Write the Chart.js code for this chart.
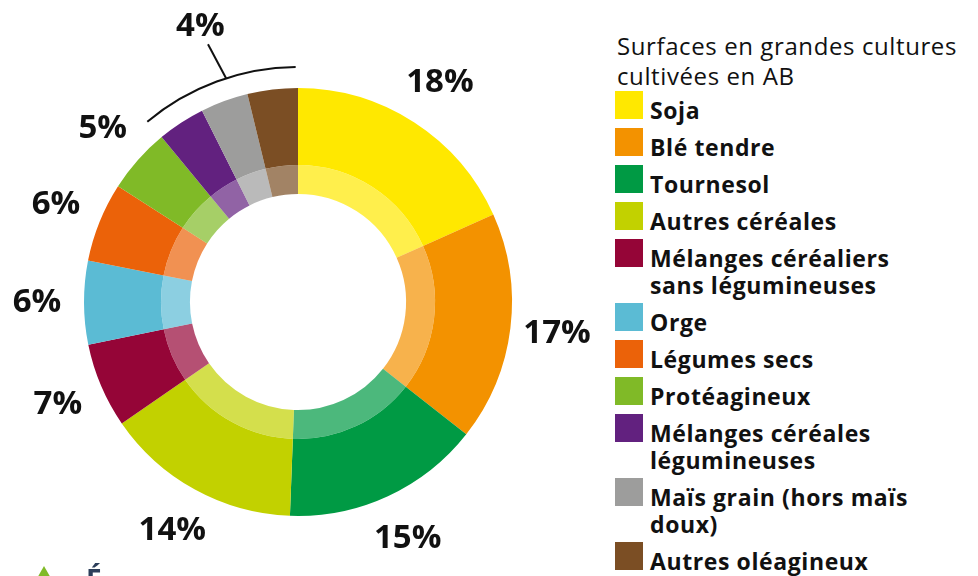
<!DOCTYPE html>
<html>
<head>
<meta charset="utf-8">
<script src="https://cdn.jsdelivr.net/npm/chart.js@4"></script>
<style>
    html, body { margin: 0; padding: 0; background: #fff; }
    body { width: 978px; height: 576px; position: relative; overflow: hidden; font-family: "Open Sans", Roboto, sans-serif; color: #111; }
    #wrap { position: absolute; left: 0; top: 0; width: 596px; height: 576px; }
    #legend { position: absolute; left: 615px; top: 31px; width: 363px; }
    #legend .title { font-size: 24px; line-height: 30px; margin-left: 2px; letter-spacing: 0.6px; white-space: nowrap; }
    #legend .item { display: flex; align-items: flex-start; margin-bottom: 4px; }
    #legend .box { width: 28px; height: 28px; flex: none; margin-right: 7px; }
    #legend .txt { font-size: 23px; font-weight: bold; line-height: 27px; padding-top: 6px; letter-spacing: 0.6px; white-space: nowrap; }
    #leaf { position: absolute; left: 36px; top: 566px; width: 0; height: 0; border-left: 8px solid transparent; border-right: 8px solid transparent; border-bottom: 14px solid #80BA27; }
    #next { position: absolute; left: 86px; top: 560px; font-size: 28px; font-weight: bold; color: #2c3e5a; }
</style>
</head>
<body>
<div id="wrap"><canvas id="chart"></canvas></div>
<div id="legend"></div>
<div id="leaf"></div>
<div id="next">É</div>
<script>
// parts of the organic field crop area (%)
const cultures = ['Soja', 'Blé tendre', 'Tournesol', 'Autres céréales',
    'Mélanges céréaliers\nsans légumineuses', 'Orge', 'Légumes secs', 'Protéagineux',
    'Mélanges céréales\nlégumineuses', 'Maïs grain (hors maïs\ndoux)', 'Autres oléagineux'];
const surfaces = [18.3, 17.3, 15.0, 14.8, 6.4, 6.3, 6.0, 4.9, 3.6, 3.6, 3.8];
const pctLabels = ['18%', '17%', '15%', '14%', '7%', '6%', '6%', '5%', '', '', ''];
const groupLabel = '4%';
const groupFirst = 8;   // last three slices share one bracket
const colors = ['#FFE800', '#F39200', '#009A44', '#C2D100', '#950537', '#5BBBD4',
    '#EB6209', '#80BA27', '#62217F', '#9D9D9C', '#7B4E24'];

// legend
let legend = document.getElementById('legend');
let html = '<div class="title">Surfaces en grandes cultures<br>cultivées en AB</div>';
cultures.forEach((c, i) => {
    html += '<div class="item"><div class="box" style="background:' + colors[i] + '"></div>'
        + '<div class="txt">' + c.replace('\n', '<br>') + '</div></div>';
});
legend.innerHTML = html;

// percentage labels + bracket around the small slices
const labelPlugin = {
    id: 'pctLabels',
    afterDraw(chart) {
        const arcs = chart.getDatasetMeta(0).data;
        const ctx = chart.ctx;
        const cx = arcs[0].x, cy = arcs[0].y;
        const R = arcs[0].outerRadius;
        ctx.save();
        ctx.fillStyle = '#111';
        ctx.font = 'bold 33px "Open Sans", Roboto, sans-serif';
        ctx.textAlign = 'center';
        ctx.textBaseline = 'middle';
        arcs.forEach((a, i) => {
            if (!pctLabels[i]) return;
            const mid = (a.startAngle + a.endAngle) / 2;
            const r = R + 47;
            ctx.fillText(pctLabels[i], cx + Math.cos(mid) * r, cy + Math.sin(mid) * r);
        });
        // bracket
        const s = arcs[groupFirst].startAngle, e = arcs[arcs.length - 1].endAngle;
        const br = R + 21;
        ctx.strokeStyle = '#111';
        ctx.lineWidth = 2;
        ctx.beginPath();
        ctx.arc(cx, cy, br, s - 0.005, e - 0.01);
        ctx.stroke();
        const gm = s + (e - s) * 0.55;
        ctx.beginPath();
        ctx.moveTo(cx + Math.cos(gm) * br, cy + Math.sin(gm) * br);
        ctx.lineTo(cx + Math.cos(gm - 0.025) * (br + 38), cy + Math.sin(gm - 0.025) * (br + 38));
        ctx.stroke();
        ctx.fillText(groupLabel, cx + Math.cos(gm - 0.03) * (br + 57), cy + Math.sin(gm - 0.03) * (br + 57));
        ctx.restore();
    }
};

const data = {
    labels: cultures,
    datasets: [{
            data: surfaces,
            backgroundColor: colors,
            borderWidth: 0,
            weight: 77
        }, {
            data: surfaces,
            backgroundColor: colors.map(c => c + 'B3'),
            borderWidth: 0,
            weight: 29
        }]
};
const config = {
    type: 'doughnut',
    data: data,
    options: {
        responsive: true,
        maintainAspectRatio: false,
        animation: false,
        cutout: '50.5%',
        layout: { padding: { left: 84, top: 88, right: 84, bottom: 60 } },
        plugins: {
            legend: { display: false },
            tooltip: { enabled: false }
        }
    },
    plugins: [labelPlugin]
};
let ctx = document.getElementById('chart').getContext('2d');
new Chart(ctx, config);
</script>
</body>
</html>
